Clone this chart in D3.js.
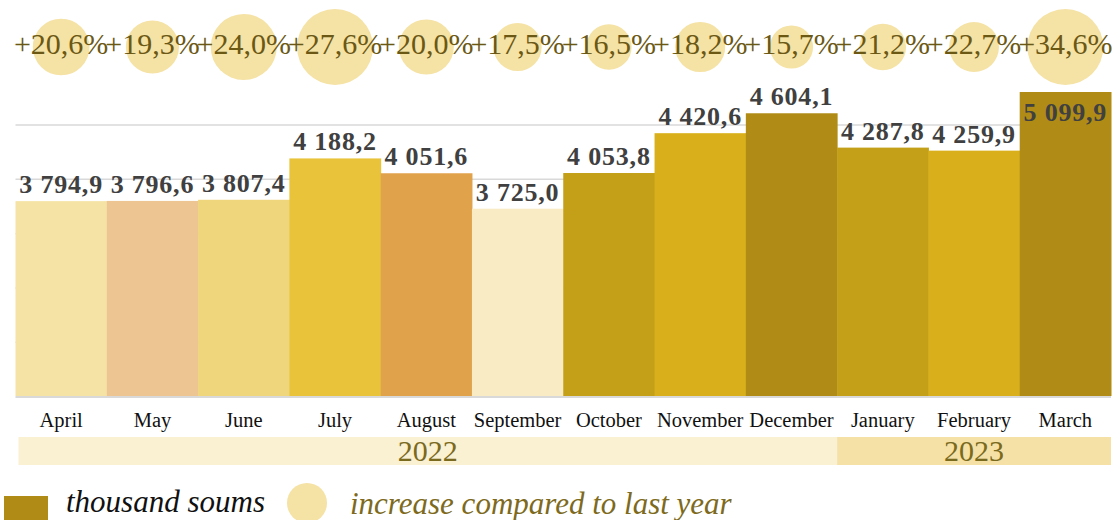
<!DOCTYPE html>
<html>
<head>
<meta charset="utf-8">
<script src="https://cdn.jsdelivr.net/npm/d3@7"></script>
<style>
  body { margin: 0; background: #fff; }
  svg { display: block; font-family: "Liberation Serif", "Times New Roman", serif; }
</style>
</head>
<body>
<svg id="chart" width="1114" height="520"></svg>
<script>
const months = ['April', 'May', 'June', 'July', 'August', 'September',
  'October', 'November', 'December', 'January', 'February', 'March'];
const monthYears = ['2022', '2022', '2022', '2022', '2022', '2022',
  '2022', '2022', '2022', '2023', '2023', '2023'];
const values = [3794.9, 3796.6, 3807.4, 4188.2, 4051.6, 3725.0,
  4053.8, 4420.6, 4604.1, 4287.8, 4259.9, 5099.9];
const growth = [20.6, 19.3, 24.0, 27.6, 20.0, 17.5, 16.5, 18.2, 15.7, 21.2, 22.7, 34.6];
const years = ['2022', '2023'];
const gridTicks = [2500, 3000, 3500, 4000, 4500];
const legendLabels = ['thousand soums', 'increase compared to last year'];

// colours
const barColors = ['#F5E3A5', '#EDC592', '#EFD57C', '#E9C43A', '#E0A24B', '#F9EBC3',
  '#C4A019', '#D9B01B', '#B08C16', '#C4A019', '#D9B01B', '#B08C16'];
const bandColors = { 2022: '#FAF0D2', 2023: '#F5E1A5' };
const bubbleColor = '#F5E2A5';
const pctColor = '#6B5814';

const data = months.map((m, i) => ({
  month: m, year: monthYears[i], value: values[i], pct: growth[i], color: barColors[i],
}));

const loc = d3.formatLocale({
  decimal: ',', thousands: '\u00a0', grouping: [3], currency: ['', ''],
});
const fmtValue = loc.format(',.1f');
const fmtPct = loc.format('+.1f');

const svg = d3.select('#chart');

const x = d3.scaleBand().domain(months).range([15.5, 1111]).padding(0);
const y = d3.scaleLinear().domain([2000, 4800]).range([396, 92]).clamp(true);

// gridlines
const grid = svg.append('g')
  .attr('transform', `translate(${x.range()[0]},0)`)
  .call(d3.axisLeft(y).tickValues(gridTicks).tickSize(-(x.range()[1] - x.range()[0])).tickFormat(''));
grid.select('.domain').remove();
grid.selectAll('line').style('stroke', '#d9d9d9').style('stroke-width', 1.5);

// bars
svg.append('g')
  .selectAll('rect')
  .data(data)
  .join('rect')
  .attr('x', (d) => x(d.month))
  .attr('y', (d) => y(d.value))
  .attr('width', x.bandwidth() + 0.5)
  .attr('height', (d) => y(2000) - y(d.value))
  .attr('fill', (d) => d.color);

// baseline
svg.append('line')
  .attr('x1', x.range()[0])
  .attr('x2', x.range()[1])
  .attr('y1', y(2000) + 1)
  .attr('y2', y(2000) + 1)
  .style('stroke', '#d9d9d9')
  .style('stroke-width', 2);

// value labels
svg.append('g')
  .selectAll('text')
  .data(data)
  .join('text')
  .attr('x', (d) => x(d.month) + x.bandwidth() / 2)
  .attr('y', (d) => (d.value > y.domain()[1] ? y(d.value) + 29 : y(d.value) - 8))
  .attr('text-anchor', 'middle')
  .style('font-size', '26px')
  .style('font-weight', 'bold')
  .style('letter-spacing', '0.8px')
  .style('fill', '#404040')
  .text((d) => fmtValue(d.value));

// growth bubbles
const rScale = d3.scaleLinear()
  .domain([0, d3.max(data, (d) => d.pct)])
  .range([0, 38]);
const yearMax = {};
years.forEach((yr) => {
  yearMax[yr] = d3.max(data.filter((d) => d.year === yr), (d) => d.pct);
});
// each year is sized against its own maximum
const radius = (d) => rScale(d.pct * (d3.max(growth) / yearMax[d.year]));

const bubbles = svg.append('g')
  .selectAll('g')
  .data(data)
  .join('g')
  .attr('transform', (d) => `translate(${x(d.month) + x.bandwidth() / 2},47)`);

bubbles.append('circle')
  .attr('r', radius)
  .attr('fill', bubbleColor);

bubbles.append('text')
  .attr('y', 7)
  .attr('text-anchor', 'middle')
  .style('font-size', '30px')
  .style('fill', pctColor)
  .text((d) => `${fmtPct(d.pct)}%`);

// month axis
const xAxis = svg.append('g')
  .attr('transform', `translate(0,${y(2000)})`)
  .call(d3.axisBottom(x).tickSize(0));
xAxis.select('.domain').remove();
xAxis.selectAll('text')
  .attr('y', 31)
  .attr('dy', 0)
  .style('font-family', '"Liberation Serif", "Times New Roman", serif')
  .style('font-size', '20.5px')
  .style('fill', '#111');

// year bands
const yearSpans = years.map((yr) => {
  const ms = data.filter((d) => d.year === yr).map((d) => d.month);
  return { year: yr, x0: x(ms[0]), x1: x(ms[ms.length - 1]) + x.bandwidth() };
});
yearSpans[0].x0 += 3;

const bands = svg.append('g')
  .selectAll('g')
  .data(yearSpans)
  .join('g');

bands.append('rect')
  .attr('x', (d) => d.x0)
  .attr('y', 437)
  .attr('width', (d) => d.x1 - d.x0)
  .attr('height', 28)
  .attr('fill', (d) => bandColors[d.year]);

bands.append('text')
  .attr('x', (d) => (d.x0 + d.x1) / 2)
  .attr('y', 461)
  .attr('text-anchor', 'middle')
  .style('font-size', '30px')
  .style('fill', '#7A6A1E')
  .text((d) => d.year);

// legend
const legend = svg.append('g');
legend.append('rect')
  .attr('x', 4).attr('y', 496).attr('width', 44).attr('height', 26)
  .attr('fill', '#B08C16');
legend.append('text')
  .attr('x', 66).attr('y', 512)
  .style('font-size', '31px').style('font-style', 'italic').style('fill', '#111')
  .text(legendLabels[0]);
legend.append('circle')
  .attr('cx', 307).attr('cy', 503).attr('r', 20)
  .attr('fill', bubbleColor);
legend.append('text')
  .attr('x', 350).attr('y', 514)
  .style('font-size', '31px').style('font-style', 'italic').style('fill', '#7D6A20')
  .text(legendLabels[1]);
</script>
</body>
</html>
